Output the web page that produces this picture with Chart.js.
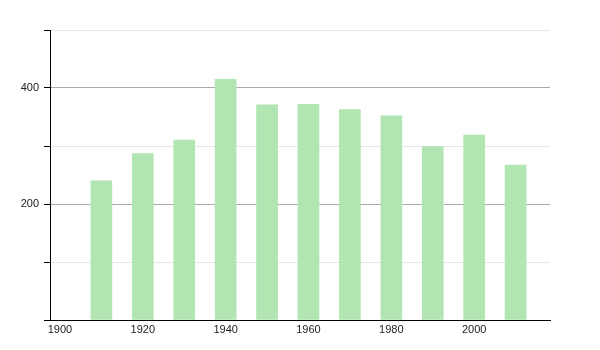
<!DOCTYPE html>
<html>
<head>
<meta charset="utf-8">
<script src="https://cdn.jsdelivr.net/npm/chart.js@4"></script>
<style>
html,body{margin:0;padding:0;background:#fff;}
#wrap{width:600px;height:350px;}
</style>
</head>
<body>
<div id="wrap"><canvas id="c" width="600" height="350"></canvas></div>
<script>
const years = [1910, 1920, 1930, 1940, 1950, 1960, 1970, 1980, 1990, 2000, 2010];
const values = [240, 287, 310, 415, 371, 372, 363, 352, 299, 319, 267];
const xTicks = [1900, 1920, 1940, 1960, 1980, 2000];
const yLabelled = [200, 400];

const ctx = document.getElementById('c').getContext('2d');
new Chart(ctx, {
  type: 'bar',
  data: {
    datasets: [{
      data: years.map((y, i) => ({x: y, y: values[i]})),
      backgroundColor: '#b1e5b1',
      borderWidth: 0,
      barThickness: 21
    }]
  },
  options: {
    responsive: false,
    animation: false,
    layout: {padding: {left: 0, right: 50, top: 30, bottom: 0}},
    plugins: {legend: {display: false}, tooltip: {enabled: false}},
    scales: {
      x: {
        type: 'linear',
        offset: false,
        min: 1897.6,
        max: 2018.3,
        afterBuildTicks: s => { s.ticks = xTicks.map(v => ({value: v})); },
        afterFit: s => { s.height = 30; },
        grid: {display: false, drawTicks: false, offset: false},
        border: {display: true, color: '#000', width: 1},
        ticks: {
          color: '#222',
          font: {family: 'Liberation Sans, Arial', size: 11},
          padding: 3,
          maxRotation: 0,
          autoSkip: false,
          callback: v => String(v)
        }
      },
      y: {
        min: 0,
        max: 500,
        afterBuildTicks: s => { s.ticks = [0,100,200,300,400,500].map(v => ({value: v})); },
        afterFit: s => { s.width = 50; },
        grid: {
          color: c => (c.tick && c.tick.value % 200 === 0) ? '#aaaaaa' : '#e6e6e6',
          tickColor: '#000',
          tickLength: 6,
          drawTicks: true
        },
        border: {display: true, color: '#000', width: 1},
        ticks: {
          color: '#222',
          font: {family: 'Liberation Sans, Arial', size: 11},
          padding: 5,
          callback: v => yLabelled.includes(v) ? String(v) : ''
        }
      }
    }
  }
});
</script>
</body>
</html>
